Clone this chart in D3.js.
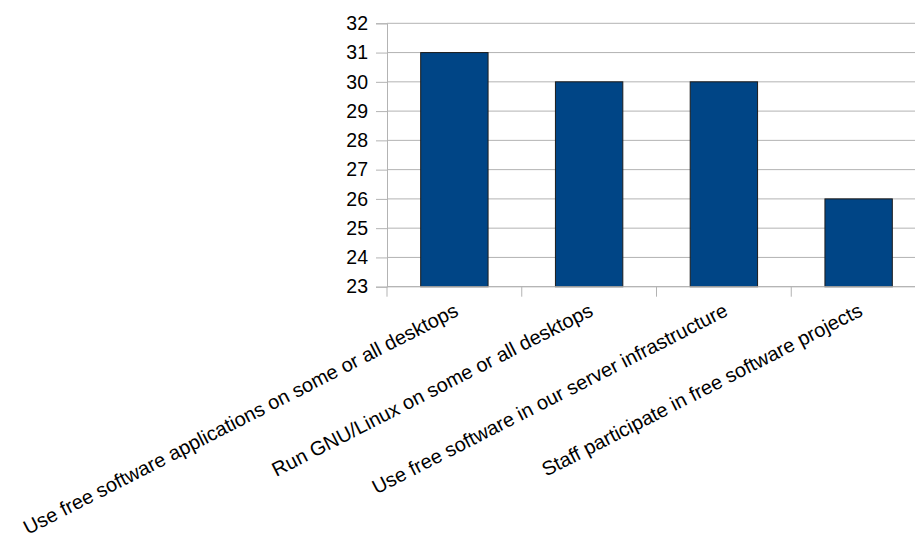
<!DOCTYPE html>
<html>
<head>
<meta charset="utf-8">
<script src="https://cdn.jsdelivr.net/npm/d3@7"></script>
<style>
  html, body { margin: 0; padding: 0; background: #fff; }
  svg { display: block; }
  text { font-family: "Liberation Sans", Arial, sans-serif; fill: #000; }
</style>
</head>
<body>
<svg id="chart" width="915" height="542"></svg>
<script>
// Survey responses
const categories = [
  "Use free software applications on some or all desktops",
  "Run GNU/Linux on some or all desktops",
  "Use free software in our server infrastructure",
  "Staff participate in free software projects"
];
const values = [31, 30, 30, 26];
const yTicks = [23, 24, 25, 26, 27, 28, 29, 30, 31, 32];

const svg = d3.select("#chart");
const plot = { left: 387, right: 926, top: 23.3, bottom: 286.7 };
const tickFont = 19.5;
const labelFont = 20;

const x = d3.scaleBand()
  .domain(categories)
  .range([plot.left, plot.right])
  .paddingInner(0).paddingOuter(0);

const y = d3.scaleLinear()
  .domain([23, 32])
  .range([plot.bottom, plot.top]);

// horizontal grid lines
svg.append("g")
  .selectAll("line")
  .data(yTicks)
  .join("line")
  .attr("x1", plot.left).attr("x2", plot.right)
  .attr("y1", d => y(d)).attr("y2", d => y(d))
  .attr("stroke", "#b3b3b3").attr("stroke-width", 1);

// bars: half of each band, centred
const barW = x.bandwidth() * 0.5;
svg.append("g")
  .selectAll("rect")
  .data(values)
  .join("rect")
  .attr("x", (d, i) => x(categories[i]) + (x.bandwidth() - barW) / 2)
  .attr("y", d => y(d))
  .attr("width", barW)
  .attr("height", d => y(23) - y(d))
  .attr("fill", "#004586")
  .attr("stroke", "#1c1c1c")
  .attr("stroke-width", 1);

// y axis
const yAxis = d3.axisLeft(y)
  .tickValues(yTicks)
  .tickSize(11)
  .tickPadding(8)
  .tickFormat(d3.format("d"));
const gy = svg.append("g")
  .attr("transform", `translate(${plot.left},0)`)
  .call(yAxis);
gy.select(".domain").attr("stroke", "#b3b3b3");
gy.selectAll(".tick line").attr("stroke", "#b3b3b3");
gy.selectAll(".tick text")
  .attr("font-size", tickFont)
  .attr("fill", "#000");

// x axis: ticks at band boundaries
const xAxisG = svg.append("g");
xAxisG.append("line")
  .attr("x1", plot.left).attr("x2", plot.right)
  .attr("y1", plot.bottom).attr("y2", plot.bottom)
  .attr("stroke", "#b3b3b3");
xAxisG.selectAll("line.tk")
  .data(categories)
  .join("line")
  .attr("class", "tk")
  .attr("x1", d => x(d)).attr("x2", d => x(d))
  .attr("y1", plot.bottom).attr("y2", plot.bottom + 10)
  .attr("stroke", "#b3b3b3");

// rotated category labels
const angle = -27;
xAxisG.selectAll("text")
  .data(categories)
  .join("text")
  .attr("transform", d => `translate(${x(d) + x.bandwidth() / 2 + 2},${plot.bottom + 22}) rotate(${angle})`)
  .attr("text-anchor", "end")
  .attr("dy", "0.35em")
  .attr("font-size", labelFont)
  .text(d => d);
</script>
</body>
</html>
